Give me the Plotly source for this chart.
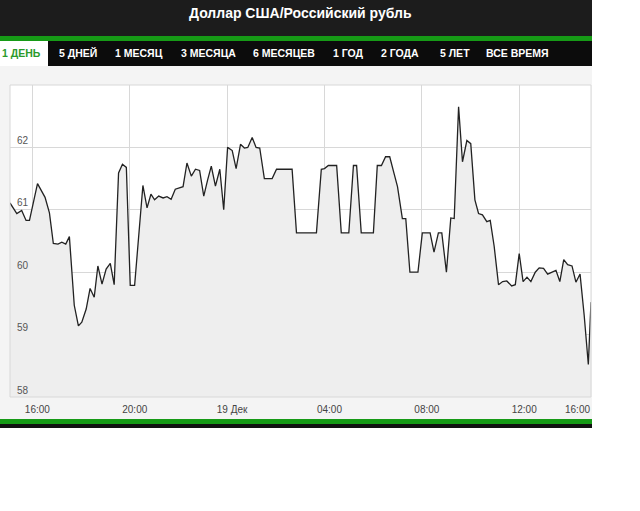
import plotly.graph_objects as go

hours = [-0.92,-0.64,-0.44,-0.26,-0.12,0.21,0.52,0.70,0.86,1.05,1.21,1.37,1.52,1.72,1.89,2.03,2.21,2.37,2.54,2.69,2.86,3.03,3.20,3.36,3.54,3.70,3.86,4.02,4.20,4.54,4.71,4.87,5.02,5.19,5.37,5.53,5.70,5.87,6.19,6.35,6.53,6.70,6.87,
         7.04,7.20,7.35,7.52,7.70,7.86,8.02,8.21,8.37,8.55,8.71,8.85,9.03,9.19,9.34,9.53,9.85,10.03,10.67,10.85,11.67,11.87,12.00,12.16,12.50,12.69,13.00,13.19,13.32,13.51,14.01,14.17,14.34,14.51,14.68,14.86,
         15.00,15.20,15.34,15.51,15.84,16.02,16.34,16.50,16.68,16.82,17.01,17.19,17.33,17.51,17.67,17.85,18.01,18.18,18.33,18.49,18.67,18.81,18.97,19.15,19.32,19.49,19.69,19.84,20.00,20.16,20.32,20.48,20.66,20.82,21.00,21.17,21.35,21.51,21.67,21.83,21.99,22.17,22.33,22.50,22.67,22.84,22.95]
rate = [61.11,60.94,60.99,60.83,60.83,61.42,61.20,60.95,60.46,60.45,60.48,60.45,60.57,59.47,59.14,59.20,59.41,59.74,59.60,60.10,59.81,60.05,60.14,59.80,61.59,61.73,61.68,59.79,59.79,61.39,61.03,61.25,61.16,61.22,61.19,61.21,61.17,61.33,61.37,61.75,61.54,61.65,61.63,
        61.22,61.48,61.70,61.38,61.65,61.00,62.00,61.95,61.66,62.05,61.99,62.00,62.16,62.00,61.99,61.50,61.50,61.65,61.65,60.63,60.63,61.65,61.66,61.71,61.71,60.63,60.63,61.71,61.71,60.63,60.63,61.71,61.71,61.85,61.85,61.58,
        61.37,60.86,60.86,60.00,60.00,60.63,60.63,60.32,60.63,60.63,60.00,60.87,60.86,62.65,61.77,62.11,62.06,61.16,60.94,60.92,60.81,60.83,60.42,59.80,59.85,59.86,59.78,59.80,60.30,59.85,59.92,59.85,60.00,60.07,60.06,59.97,60.00,60.03,59.85,60.20,60.12,60.10,59.84,59.97,59.31,58.52,59.52]
tick_vals = [0, 4, 8, 12, 16, 20]
tick_text = ["16:00", "20:00", "19 Дек", "04:00", "08:00", "12:00"]
tabs = ["1 ДЕНЬ", "5 ДНЕЙ", "1 МЕСЯЦ", "3 МЕСЯЦА", "6 МЕСЯЦЕВ", "1 ГОД", "2 ГОДА", "5 ЛЕТ", "ВСЕ ВРЕМЯ"]
tab_x = [21, 78, 139, 208, 284, 348, 400, 455, 517]
title = "Доллар США/Российский рубль"

L, R, T, B = 10, 591, 85, 397
def px(x): return (x - L) / (R - L)
def py(y): return (B - y) / (B - T)

fig = go.Figure(go.Scatter(x=hours, y=rate, mode="lines", line=dict(color="#222", width=1.3),
                           fill="tozeroy", fillcolor="#eeeeee", hoverinfo="skip"))

shapes = []
def rect(x0, y0, x1, y1, color, layer="below"):
    shapes.append(dict(type="rect", xref="paper", yref="paper", x0=px(x0), x1=px(x1), y0=py(y1), y1=py(y0),
                       fillcolor=color, line=dict(width=0), layer=layer))
rect(0, 66, 592, 420, "#f4f4f4")
rect(L, T, R, B, "#ffffff")
rect(0, 0, 592, 36, "#1c1c1c", "above")
rect(0, 36, 592, 41, "#169a16", "above")
rect(0, 41, 592, 66, "#0c0c0c", "above")
rect(0, 41, 48, 66, "#ffffff", "above")
rect(0, 419, 592, 424, "#169a16", "above")
rect(0, 424, 592, 428, "#111111", "above")
shapes.append(dict(type="rect", xref="paper", yref="paper", x0=0, x1=1, y0=0, y1=1,
                   line=dict(color="#d8d8d8", width=1), fillcolor="rgba(0,0,0,0)", layer="above"))

def label(text, x, y, size, color):
    return dict(text=text, x=px(x), y=py(y), xref="paper", yref="paper", showarrow=False,
                xanchor="center", yanchor="middle", font=dict(family="Liberation Sans", size=size, color=color))

ann = [label("<b>%s</b>" % title, 300, 13, 14, "white")]
for i, (t, x) in enumerate(zip(tabs, tab_x)):
    ann.append(label("<b>%s</b>" % t, x, 53, 10.5, "#2a9a2a" if i == 0 else "white"))
ann.append(label("16:00", 577, 409, 10, "#444"))

fig.update_layout(
    width=640, height=511, margin=dict(l=L, r=640 - R, t=T, b=511 - B),
    paper_bgcolor="white", plot_bgcolor="white", showlegend=False,
    shapes=shapes, annotations=ann,
    xaxis=dict(range=[-0.92, 22.95], tickvals=tick_vals, ticktext=tick_text, showgrid=True,
               gridcolor="#d8d8d8", zeroline=False, ticks="", ticklabelshift=5, ticklabelstandoff=5,
               tickfont=dict(family="Liberation Sans", size=10, color="#444")),
    yaxis=dict(range=[58, 63], tickvals=[58, 59, 60, 61, 62], showgrid=True, gridcolor="#d8d8d8",
               zeroline=False, ticks="", ticklabelposition="inside top", ticklabelstandoff=4,
               tickfont=dict(family="Liberation Sans", size=10, color="#555")),
)
fig.write_html("out.html", post_script="document.body.style.margin='0';",
               config={"displayModeBar": False})
